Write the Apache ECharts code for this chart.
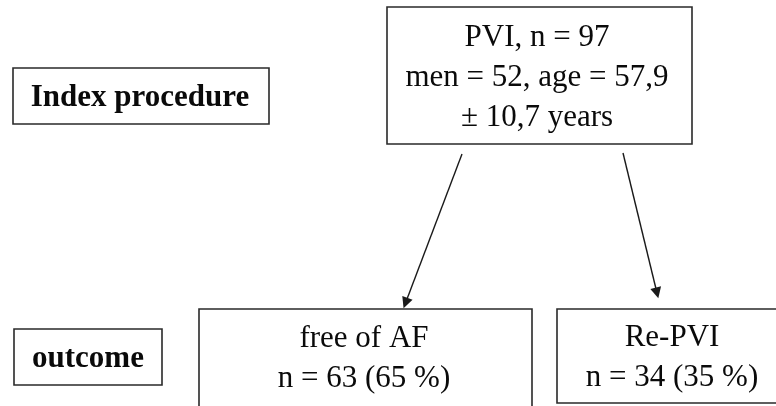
<!DOCTYPE html>
<html>
<head>
<meta charset="utf-8">
<script src="https://cdn.jsdelivr.net/npm/echarts@6/dist/echarts.min.js"></script>
<style>
  html, body { margin: 0; padding: 0; background: #fff; }
  #chart { width: 776px; height: 406px; }
</style>
</head>
<body>
<div id="chart"></div>
<script>
// study values
const stageLabels = ['Index procedure', 'outcome']
const cohortN = 97
const menCount = 52
const ageMean = 57.9
const ageSd = 10.7
const outcomeNames = ['free of AF', 'Re-PVI']
const outcomeN = [63, 34]
const outcomePct = [65, 35]

// layout in pixel space: [x0, y0, x1, y1, textX, textY]
const boxLayout = [
  [13, 68, 269, 124, 140, 97.5],
  [14, 329, 162, 385, 88, 358.5],
  [387, 7, 692, 144, 537, 77.5],
  [199, 309, 532, 420, 364, 358.5],
  [557, 309, 790, 403, 672, 358]
]
const boldBox = [true, true, false, false, false]
// arrows: [start, end] (end = centre of the arrow head)
const arrowLayout = [
  [[462, 154], [405.5, 303]],
  [[623, 153], [657, 293]]
]

const dec = (v) => String(v).replace('.', ',')

const boxTexts = [
  stageLabels[0],
  stageLabels[1],
  'PVI, n = ' + cohortN + '\nmen = ' + menCount + ', age = ' + dec(ageMean) + '\n\u00b1 ' + dec(ageSd) + ' years',
  outcomeNames[0] + '\nn = ' + outcomeN[0] + ' (' + outcomePct[0] + ' %)',
  outcomeNames[1] + '\nn = ' + outcomeN[1] + ' (' + outcomePct[1] + ' %)'
]

const chart = echarts.init(document.getElementById('chart'))

function renderBox(params, api) {
  const i = params.dataIndex
  const p0 = api.coord([api.value(0), api.value(1)])
  const p1 = api.coord([api.value(2), api.value(3)])
  const t = api.coord([api.value(4), api.value(5)])
  return {
    type: 'group',
    children: [
      {
        type: 'rect',
        shape: { x: p0[0], y: p0[1], width: p1[0] - p0[0], height: p1[1] - p0[1] },
        style: { fill: '#fff', stroke: '#2a2a2a', lineWidth: 1.6 }
      },
      {
        type: 'text',
        x: t[0],
        y: t[1],
        style: {
          text: boxTexts[i],
          fontFamily: 'Liberation Serif',
          fontSize: 31,
          fontWeight: boldBox[i] ? 'bold' : 'normal',
          lineHeight: 40,
          fill: '#0a0a0a',
          align: 'center',
          verticalAlign: 'middle'
        }
      }
    ]
  }
}

chart.setOption({
  animation: false,
  backgroundColor: '#fff',
  grid: { left: 0, right: 0, top: 0, bottom: 0 },
  xAxis: { type: 'value', min: 0, max: 776, show: false },
  yAxis: { type: 'value', min: 0, max: 406, inverse: true, show: false },
  series: [
    {
      type: 'custom',
      coordinateSystem: 'cartesian2d',
      clip: false,
      renderItem: renderBox,
      data: boxLayout
    },
    {
      type: 'lines',
      coordinateSystem: 'cartesian2d',
      symbol: ['none', 'triangle'],
      symbolSize: [8, 11],
      lineStyle: { color: '#1a1a1a', width: 1.4, opacity: 1 },
      data: arrowLayout.map((c) => ({ coords: c }))
    }
  ]
})
</script>
</body>
</html>
